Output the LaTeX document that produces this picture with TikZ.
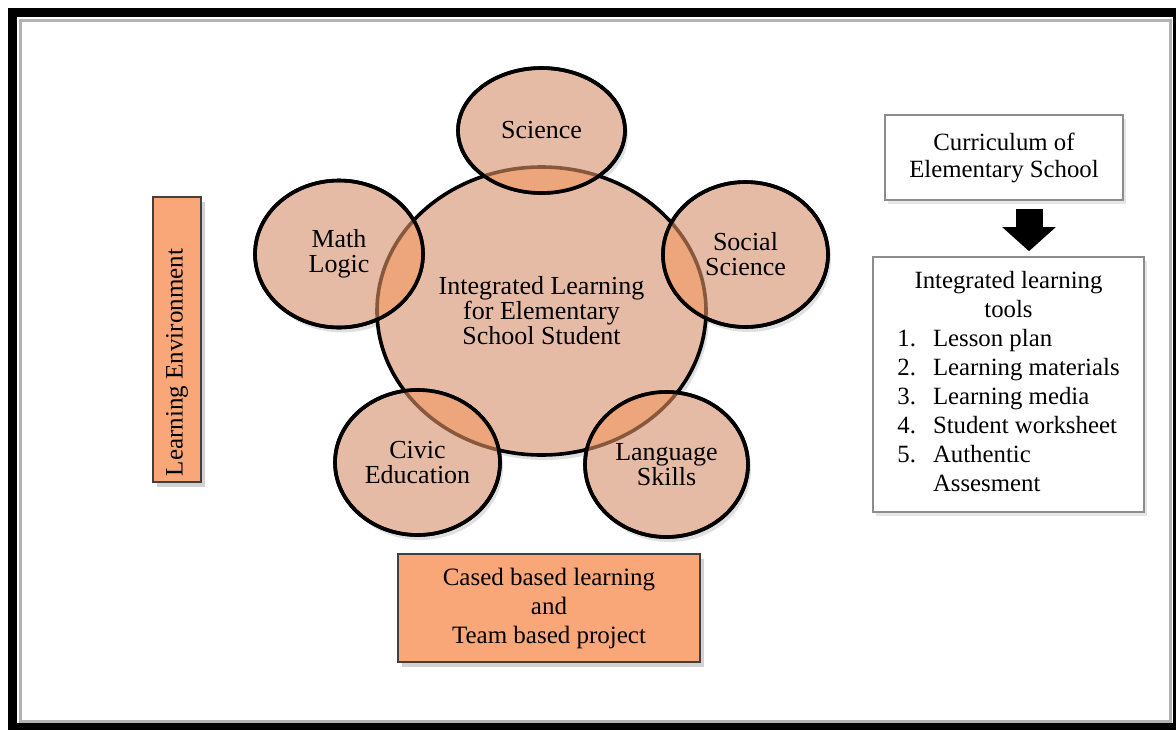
\documentclass[tikz,border=0pt]{standalone}
\usepackage{fontspec}
\setmainfont{Liberation Serif}
\usepackage{tikz}
\usetikzlibrary{shapes.geometric, arrows.meta, positioning, shadows}

\definecolor{bubblefill}{RGB}{230,187,166}
\definecolor{overlapfill}{RGB}{237,166,124}
\definecolor{rimbrown}{RGB}{135,88,60}
\definecolor{boxorange}{RGB}{249,166,121}

\begin{document}
\begin{tikzpicture}[x=0.5pt, y=-0.5pt,
    bubble/.style={ellipse, draw=black, line width=1.8pt, fill=bubblefill, inner sep=0pt,
        align=center, font=\fontsize{13}{12.5}\selectfont},
    tanbox/.style={rectangle, draw=black!75, line width=0.7pt, fill=boxorange, align=center,
        font=\fontsize{12.5}{14.5}\selectfont,
        drop shadow={shadow xshift=2pt, shadow yshift=-2.5pt, opacity=0.35}},
    whitebox/.style={rectangle, draw=black!45, line width=0.8pt, fill=white, align=center,
        font=\fontsize{12.4}{14.5}\selectfont,
        drop shadow={shadow xshift=1.5pt, shadow yshift=-2pt, opacity=0.2}},
    bigarrow/.style={line width=13.5pt, -{Triangle[width=26pt,length=12pt]}}]
    \useasboundingbox (0,0) rectangle (1176,729);
    \fill[white] (0,0) rectangle (1176,729);
    % outer frame
    \draw[black!30, line width=1.5pt] (20,20) rectangle (1170,721);
    \draw[line width=4.5pt] (12.5,12.5) rectangle (1177.5,727.5);

    % shadows under the bubbles
    \foreach \cx/\cy/\rx/\ry in {541.5/311/164.5/144, 541.5/130.5/83.5/62.5, 339/254/84/73.5,
        745.5/254.5/82.5/72.5, 417.5/462.5/82.5/72.5, 666.5/464.5/81.5/72.5}
        \fill[black, opacity=0.12] (\cx+3,\cy+5) ellipse [x radius=\rx, y radius=\ry];

    \node[bubble, minimum width=164.5pt, minimum height=144pt] (core) at (541.5,311)
        {Integrated Learning\\for Elementary\\School Student};
    \foreach \nm/\cx/\cy/\rx/\ry/\txt in {sci/541.5/130.5/83.5/62.5/{Science},
        math/339/254/84/73.5/{Math\\Logic}, soc/745.5/254.5/82.5/72.5/{Social\\Science},
        civ/417.5/462.5/82.5/72.5/{Civic\\Education}, lang/666.5/464.5/81.5/72.5/{Language\\Skills}}
        \node[bubble, minimum width=\rx pt, minimum height=\ry pt] (\nm) at (\cx,\cy) {\txt};

    % overlaps with the core
    \begin{scope}
        \clip (core.center) ellipse [x radius=164.5, y radius=144];
        \foreach \nm/\rx/\ry in {sci/83.5/62.5, math/84/73.5, soc/82.5/72.5, civ/82.5/72.5, lang/81.5/72.5}
            \fill[overlapfill] (\nm.center) ellipse [x radius=\rx, y radius=\ry];
    \end{scope}
    \foreach \nm/\rx/\ry in {sci/83.5/62.5, math/84/73.5, soc/82.5/72.5, civ/82.5/72.5, lang/81.5/72.5} {
        \begin{scope}
            \clip (\nm.center) ellipse [x radius=\rx, y radius=\ry];
            \draw[rimbrown, line width=1.8pt] (core.center) ellipse [x radius=164.5, y radius=144];
        \end{scope}
        \draw[line width=1.8pt] (\nm.center) ellipse [x radius=\rx, y radius=\ry];
    }

    \node[tanbox, rotate=90, text width=136.5pt, inner sep=3pt, align=flush left,
        minimum width=142.5pt, minimum height=24pt] (env) at (177,339.5)
        {Learning Environment};
    \node[tanbox, minimum width=151pt, minimum height=54pt] (cbl) at (549,608)
        {Cased based learning\\and\\Team based project};

    \node[whitebox, minimum width=119pt, minimum height=42.5pt, font=\fontsize{12.4}{13.5}\selectfont]
        (cur) at (1004,157.5) {Curriculum of\\Elementary School};
    \node[whitebox, minimum width=135.5pt, minimum height=127.5pt] (tools) at (1008.5,384.5) {%
        \begin{tabular}{@{}l@{\hspace{8.5pt}}l@{}}
            \multicolumn{2}{c}{Integrated learning}\\
            \multicolumn{2}{c}{tools}\\
            1. & Lesson plan\\
            2. & Learning materials\\
            3. & Learning media\\
            4. & Student worksheet\\
            5. & Authentic\\
               & Assesment
        \end{tabular}};

    \draw[bigarrow, shorten <=4pt, shorten >=2.5pt] ([xshift=12.5pt]cur.south)
        -- ([xshift=12.5pt]cur.south |- tools.north);
\end{tikzpicture}
\end{document}
